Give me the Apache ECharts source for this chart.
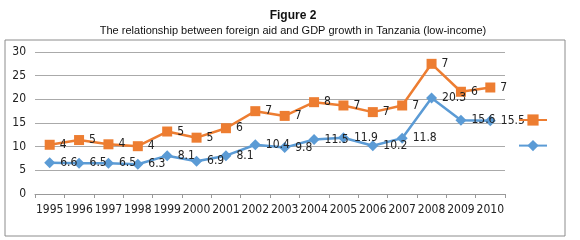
<!DOCTYPE html>
<html>
<head>
<meta charset="utf-8">
<script src="https://cdn.jsdelivr.net/npm/echarts@6/dist/echarts.min.js"></script>
<style>
  html, body { margin: 0; padding: 0; background: #fff; }
  #app { width: 580px; height: 240px; }
</style>
</head>
<body>
<div id="app"></div>
<script>
// values
const years = ["1995", "1996", "1997", "1998", "1999", "2000", "2001", "2002",
  "2003", "2004", "2005", "2006", "2007", "2008", "2009", "2010"];
const aidValues = [10.4, 11.4, 10.5, 10.1, 13.2, 11.9, 13.9, 17.5,
  16.5, 19.4, 18.7, 17.3, 18.7, 27.5, 21.6, 22.5];
const aidLabels = ["4", "5", "4", "4", "5", "5", "6", "7",
  "7", "8", "7", "7", "7", "7", "6", "7"];
const gdpValues = [6.6, 6.5, 6.5, 6.3, 8.1, 6.9, 8.1, 10.4,
  9.8, 11.5, 11.9, 10.2, 11.8, 20.3, 15.6, 15.5];

const FONT = "'DejaVu Sans Condensed', 'Liberation Sans Narrow', sans-serif";

const labelStyle = {
  show: true,
  position: "right",
  distance: 5,
  color: "#222",
  fontSize: 12,
  fontFamily: FONT
};

const chart = echarts.init(document.getElementById("app"));
chart.setOption({
  backgroundColor: "#fff",
  animation: false,
  title: {
    text: "Figure 2",
    subtext: "The relationship between foreign aid and GDP growth in Tanzania (low-income)",
    left: 288,
    textAlign: "center",
    top: 5,
    itemGap: 3,
    textStyle: { fontSize: 12, fontWeight: "bold", color: "#111", fontFamily: "'Liberation Sans', Arial" },
    subtextStyle: { fontSize: 11, color: "#111", fontFamily: "'Liberation Sans', Arial" }
  },
  graphic: [{
    type: "rect",
    shape: { x: 5, y: 40, width: 560, height: 196 },
    style: { fill: "none", stroke: "#8c8c8c", lineWidth: 1 },
    z: -1
  }],
  legend: {
    orient: "vertical",
    left: 513,
    top: 108,
    itemWidth: 28,
    itemHeight: 14,
    itemGap: 13,
    formatter: () => "",
    data: ["Foreign aid", "GDP growth"]
  },
  grid: { left: 35, right: 75, top: 52, bottom: 46 },
  xAxis: {
    type: "category",
    data: years,
    boundaryGap: true,
    axisLine: { lineStyle: { color: "#999" } },
    axisTick: { show: true, interval: 0, length: 4, lineStyle: { color: "#999" } },
    axisLabel: { interval: 0, color: "#222", fontSize: 12, fontFamily: FONT, margin: 10 }
  },
  yAxis: {
    type: "value",
    min: 0,
    max: 30,
    interval: 5,
    axisLine: { show: false },
    axisTick: { show: false },
    axisLabel: { color: "#222", fontSize: 12, fontFamily: FONT, margin: 9 },
    splitLine: { lineStyle: { color: "#aaa", width: 1 } }
  },
  series: [
    {
      name: "Foreign aid",
      type: "line",
      data: aidValues,
      symbol: "rect",
      symbolSize: 10,
      lineStyle: { color: "#ED7D31", width: 2.5 },
      itemStyle: { color: "#ED7D31" },
      label: Object.assign({}, labelStyle, {
        formatter: p => aidLabels[p.dataIndex]
      })
    },
    {
      name: "GDP growth",
      type: "line",
      data: gdpValues,
      symbol: "diamond",
      symbolSize: 11,
      lineStyle: { color: "#5B9BD5", width: 2.5 },
      itemStyle: { color: "#5B9BD5" },
      label: labelStyle
    }
  ]
});
</script>
</body>
</html>
